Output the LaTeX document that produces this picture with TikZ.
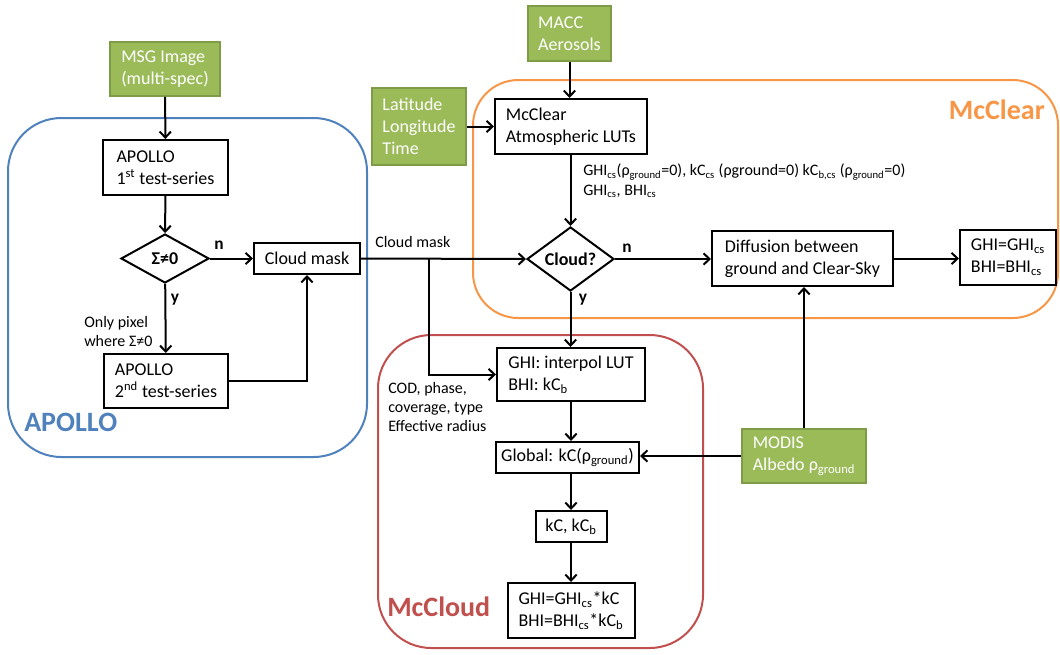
\documentclass[tikz,border=0pt]{standalone}
\usepackage{fontspec}
\setmainfont{Carlito}
\usetikzlibrary{arrows.meta,shapes.geometric}

\definecolor{inputgreen}{HTML}{9BBB59}
\definecolor{inputgreenline}{HTML}{7E9C47}
\definecolor{apolloblue}{HTML}{4F81BD}
\definecolor{clearorange}{HTML}{F79646}
\definecolor{cloudred}{HTML}{C0504D}

\newcommand{\sbs}[1]{\textsubscript{#1}}

\tikzset{
  mainfont/.style={font=\fontsize{13.5}{16.5}\selectfont},
  smallfont/.style={font=\fontsize{12}{14.6}\selectfont},
  stepbox/.style={draw=black, line width=1.5pt, fill=white, mainfont,
    inner sep=0pt, align=left},
  inputbox/.style={draw=inputgreenline, line width=1.2pt, fill=inputgreen,
    text=white, mainfont, inner sep=0pt, align=left},
  decision/.style={shape=diamond, draw=black, line width=1.5pt, fill=white,
    inner sep=0pt, font=\bfseries\fontsize{13.5}{16.5}\selectfont},
  area/.style={line width=1.5pt, rounded corners=#1, inner sep=0pt},
  arealabel/.style={font=\bfseries\fontsize{21}{25}\selectfont, inner sep=0pt},
  flow/.style={line width=1.5pt, -{Straight Barb[length=4.5pt,width=8.5pt]}},
  branch/.style={font=\bfseries\fontsize{13}{15}\selectfont, inner sep=0pt},
  note/.style={smallfont, inner sep=0pt, align=left},
}

\begin{document}
\begin{tikzpicture}[x=0.75pt, y=-0.75pt]
\useasboundingbox (0,0) rectangle (1060,654);

% ---- module frames ----
\node[area=40pt, draw=apolloblue, minimum width=269.25pt, minimum height=254.25pt]
  (apolloarea) at (187.5,287.5) {};
\node[area=34pt, draw=clearorange, minimum width=438.75pt, minimum height=178.5pt]
  (cleararea) at (765.5,199) {};
\node[area=40pt, draw=cloudred, minimum width=243.75pt, minimum height=234.75pt]
  (cloudarea) at (540.5,491.5) {};

\node[arealabel, text=apolloblue, anchor=west] (apollolabel) at (24,422) {APOLLO};
\node[arealabel, text=clearorange, anchor=east] (clearlabel) at (1045,110) {McClear};
\node[arealabel, text=cloudred, anchor=west] (cloudlabel) at (387,607) {McCloud};

% ---- inputs ----
\node[inputbox, minimum width=82.5pt, minimum height=40.5pt] (msg) at (165,69)
  {MSG Image\\(multi-spec)};
\node[inputbox, minimum width=70.5pt, minimum height=57.75pt] (latlon) at (419,126.5)
  {Latitude\\Longitude\\Time};
\node[inputbox, minimum width=62.25pt, minimum height=41.25pt] (macc) at (569.5,33.5)
  {MACC\\Aerosols};
\node[inputbox, minimum width=93pt, minimum height=40.5pt] (modis) at (804,456)
  {MODIS\\Albedo ρ\sbs{ground}};

% ---- APOLLO cloud detection ----
\node[stepbox, minimum width=93.75pt, minimum height=41.25pt] (apollo1) at (165.5,167.5)
  {APOLLO\\1\textsuperscript{st} test-series};
\node[decision, minimum width=66pt, minimum height=36.75pt] (sigma) at (165,258.5) {Σ≠0};
\node[stepbox, minimum width=79.5pt, minimum height=23.25pt, align=center] (cmask)
  at (307,258.5) {Cloud mask};
\node[stepbox, minimum width=93pt, minimum height=40.5pt] (apollo2) at (166,381)
  {APOLLO\\2\textsuperscript{nd} test-series};

% ---- McClear ----
\node[stepbox, minimum width=114pt, minimum height=41.25pt] (lut) at (571,126.5)
  {McClear\\Atmospheric LUTs};
\node[decision, minimum width=65.25pt, minimum height=36pt] (cloud) at (570.5,259) {Cloud?};
\node[stepbox, minimum width=135.75pt, minimum height=41.25pt] (diffusion) at (802.5,258.5)
  {Diffusion between\\ground and Clear-Sky};
\node[stepbox, minimum width=72pt, minimum height=41.25pt] (clearout) at (1008,257.5)
  {GHI=GHI\sbs{cs}\\BHI=BHI\sbs{cs}};

% ---- McCloud ----
\node[stepbox, minimum width=111pt, minimum height=39.75pt] (interp) at (571,374.5)
  {GHI: interpol LUT\\BHI: kC\sbs{b}};
\node[stepbox, minimum width=107.25pt, minimum height=23.25pt, align=center] (global)
  at (567.5,457.5) {Global: kC(ρ\sbs{ground})};
\node[stepbox, minimum width=53.25pt, minimum height=23.25pt, align=center] (kc)
  at (571,526.5) {kC, kC\sbs{b}};
\node[stepbox, minimum width=95.25pt, minimum height=41.25pt] (final) at (571,610.5)
  {GHI=GHI\sbs{cs}*kC\\BHI=BHI\sbs{cs}*kC\sbs{b}};

% ---- annotations ----
\node[branch] (sigman) at (219,245) {n};
\node[branch] (sigmay) at (175,300) {y};
\node[note, anchor=west] (onlypixel) at (84,331.5) {Only pixel\\where Σ≠0};
\node[note, anchor=west] (masklabel) at (375,242) {Cloud mask};
\node[branch] (cloudn) at (627,248) {n};
\node[branch] (cloudy) at (583,300) {y};
\node[note, anchor=west] (clearvalues) at (583,181)
  {GHI\sbs{cs}(ρ\sbs{ground}=0), kC\sbs{cs} (ρground=0) kC\sbs{b,cs} (ρ\sbs{ground}=0)\\
   GHI\sbs{cs}, BHI\sbs{cs}};
\node[note, anchor=west] (cloudprops) at (388,407)
  {COD, phase,\\coverage, type\\Effective radius};

% ---- connectors ----
\draw[flow] (msg) -- (apollo1);
\draw[flow] (apollo1) -- (sigma);
\draw[flow] (sigma) -- (cmask);
\draw[flow] (sigma) -- (apollo2);
\draw[flow] (apollo2.east) -| (cmask.south);

\coordinate (split) at (429,258.5);
\draw[flow] (cmask.east) -- (cloud.west);
\draw[flow] (split) |- (interp.west);

\draw[flow] (latlon.east) -- (latlon.east -| lut.west);
\draw[flow] (macc.south) -- (macc.south |- lut.north);
\draw[flow] (lut.south -| cloud.north) -- (cloud.north);
\draw[flow] (cloud.east) -- (cloud.east -| diffusion.west);
\draw[flow] (diffusion.east) -- (diffusion.east -| clearout.west);
\draw[flow] (modis.north) -- (modis.north |- diffusion.south);

\draw[flow] (cloud.south) -- (cloud.south |- interp.north);
\draw[flow] (interp.south) -- (interp.south |- global.north);
\draw[flow] (modis.west) -- (modis.west -| global.east);
\draw[flow] (kc.north |- global.south) -- (kc.north);
\draw[flow] (kc.south) -- (final.north);
\end{tikzpicture}
\end{document}
